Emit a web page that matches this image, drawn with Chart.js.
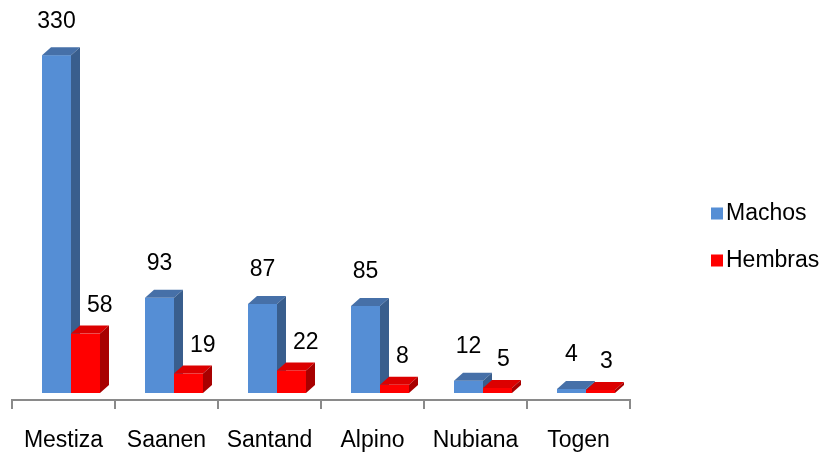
<!DOCTYPE html>
<html>
<head>
<meta charset="utf-8">
<script src="https://cdn.jsdelivr.net/npm/chart.js@4/dist/chart.umd.min.js"></script>
<style>
  html, body { margin: 0; padding: 0; background: #fff; }
  #wrap { width: 822px; height: 456px; }
</style>
</head>
<body>
<div id="wrap"><canvas id="razas"></canvas></div>
<script>
const breeds = ["Mestiza", "Saanen", "Santand", "Alpino", "Nubiana", "Togen"];
const machos = [330, 93, 87, 85, 12, 4];
const hembras = [58, 19, 22, 8, 5, 3];
const seriesNames = ["Machos", "Hembras"];

// front / top / side shades for each series
const blueFaces = ["#558ed5", "#4670a8", "#395e8d"];
const redFaces = ["#ff0000", "#dc0000", "#a80000"];

const DEPTH_X = 9, DEPTH_Y = 8;    // how deep each bar looks
const BACK_X = 7.5, BACK_Y = 7;    // bars stand back from the floor edge
const FONT_SIZE = 23;
const FONT = FONT_SIZE + "px 'Liberation Sans', Arial, sans-serif";

// draws the bars as little boxes (front, top, side) plus their values
const bars3d = {
  id: "bars3d",
  beforeDatasetsDraw(chart) {
    const ctx = chart.ctx;
    const metas = chart.data.datasets.map((_, d) => chart.getDatasetMeta(d));
    ctx.save();
    chart.data.labels.forEach((_, i) => {
      metas.forEach((meta, d) => {
        const bar = meta.data[i];
        const faces = chart.data.datasets[d].faces;
        const left = bar.x - bar.width / 2 + BACK_X;
        const right = left + bar.width;
        const top = bar.y - BACK_Y;
        const bottom = bar.base - BACK_Y;

        ctx.fillStyle = faces[0];
        ctx.fillRect(left, top, bar.width, bottom - top);

        ctx.fillStyle = faces[1];
        ctx.beginPath();
        ctx.moveTo(left, top);
        ctx.lineTo(left + DEPTH_X, top - DEPTH_Y);
        ctx.lineTo(right + DEPTH_X, top - DEPTH_Y);
        ctx.lineTo(right, top);
        ctx.closePath();
        ctx.fill();

        ctx.fillStyle = faces[2];
        ctx.beginPath();
        ctx.moveTo(right, top);
        ctx.lineTo(right + DEPTH_X, top - DEPTH_Y);
        ctx.lineTo(right + DEPTH_X, bottom - DEPTH_Y);
        ctx.lineTo(right, bottom);
        ctx.closePath();
        ctx.fill();
      });
    });

    // value labels; a red label is pushed right when the blue bar beside it is in the way
    ctx.font = FONT;
    ctx.fillStyle = "#000";
    ctx.textAlign = "center";
    ctx.textBaseline = "middle";
    metas.forEach((meta, d) => {
      const values = chart.data.datasets[d].data;
      meta.data.forEach((bar, i) => {
        const text = String(values[i]);
        let x = bar.x + BACK_X + (d === 1 ? 6 : 0);
        const y = bar.y - BACK_Y - (d === 1 ? 28 : 34);
        if (d === 1) {
          const blue = metas[0].data[i];
          const blueTop = blue.y - BACK_Y - DEPTH_Y;
          const blueSide = blue.x + blue.width / 2 + BACK_X + DEPTH_X;
          const half = ctx.measureText(text).width / 2;
          if (blueTop < y + FONT_SIZE / 2) x = Math.max(x, blueSide + 7 + half);
        }
        ctx.fillText(text, x, y);
      });
    });
    ctx.restore();
    return false;
  }
};

// legend on the right, small square + name
const sideLegend = {
  id: "sideLegend",
  afterDraw(chart) {
    const ctx = chart.ctx;
    ctx.save();
    ctx.font = FONT;
    ctx.textAlign = "left";
    ctx.textBaseline = "middle";
    chart.data.datasets.forEach((ds, d) => {
      const cy = 213.5 + d * 47;
      ctx.fillStyle = ds.faces[0];
      ctx.fillRect(711, cy - 6, 12, 12);
      ctx.fillStyle = "#000";
      ctx.fillText(ds.label, 726, cy);
    });
    ctx.restore();
  }
};

new Chart(document.getElementById("razas"), {
  type: "bar",
  data: {
    labels: breeds,
    datasets: [
      { label: seriesNames[0], data: machos, faces: blueFaces, backgroundColor: blueFaces[0] },
      { label: seriesNames[1], data: hembras, faces: redFaces, backgroundColor: redFaces[0] }
    ]
  },
  options: {
    responsive: true,
    maintainAspectRatio: false,
    animation: false,
    layout: { padding: { left: 12, right: 192, top: 12, bottom: 0 } },
    categoryPercentage: 0.563,
    barPercentage: 1,
    plugins: {
      legend: { display: false },
      tooltip: { enabled: false }
    },
    scales: {
      x: {
        offset: true,
        grid: {
          offset: true,
          drawOnChartArea: false,
          drawTicks: true,
          tickLength: 9,
          color: "#8a8a8a",
          lineWidth: 2
        },
        border: { color: "#8a8a8a", width: 2 },
        ticks: {
          color: "#000",
          padding: 18,
          font: { family: "'Liberation Sans', Arial, sans-serif", size: FONT_SIZE }
        },
        afterFit: (scale) => { scale.height = 56; }
      },
      y: {
        display: false,
        min: 0,
        max: 379
      }
    }
  },
  plugins: [bars3d, sideLegend]
});
</script>
</body>
</html>
